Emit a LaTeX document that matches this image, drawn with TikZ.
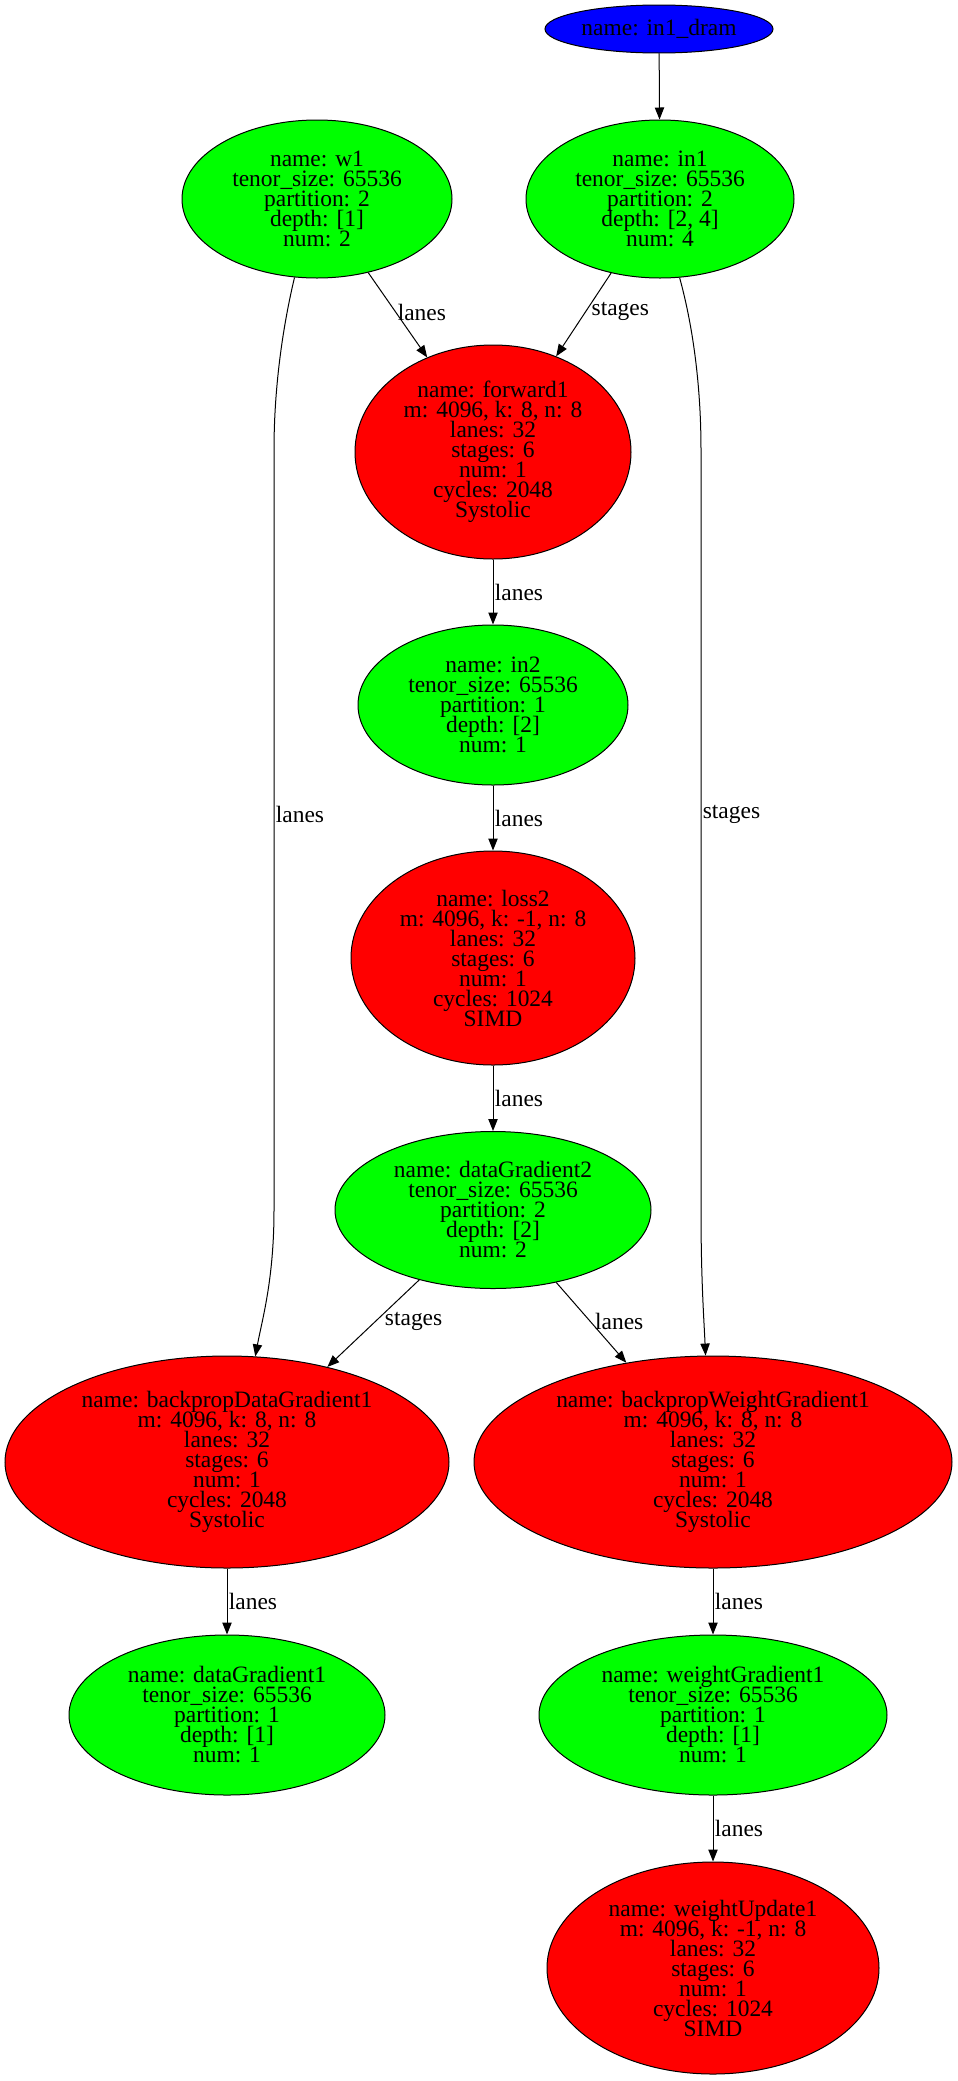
\documentclass[tikz,border=0pt]{standalone}
\usepackage{fontspec}
\setmainfont{Liberation Serif}
\usetikzlibrary{shapes.geometric,arrows.meta}
\definecolor{dramblue}{HTML}{0000FF}
\definecolor{tensorgreen}{HTML}{00FF00}
\definecolor{opred}{HTML}{FF0000}
% tight Graphviz-like line pitch: fixed 15pt baselines regardless of glyph extents
\newcommand{\gvfont}{\fontsize{17.6}{15}\selectfont\lineskiplimit=-30pt\lineskip=0pt}
\tikzset{
  gv/.style={ellipse, draw=black, line width=0.75pt, inner sep=0pt, align=center,
             font=\gvfont},
  mem/.style={gv, fill=dramblue},
  tensor/.style={gv, fill=tensorgreen},
  op/.style={gv, fill=opred},
  edge/.style={draw, line width=0.75pt, -{Triangle[length=9pt,width=7pt]}},
  lbl/.style={font=\gvfont, inner sep=1pt, right},
}
\begin{document}
\begin{tikzpicture}[x=0.75pt,y=-0.75pt]
\useasboundingbox (0,0) rectangle (957,2081);

% memory and tensor inputs
\node[mem, minimum width=171pt, minimum height=36pt] (dram) at (659,29) {name: in1\_dram};
\node[tensor, minimum width=202.5pt, minimum height=118.5pt] (w1) at (317,199)
  {name: w1\\tenor\_size: 65536\\partition: 2\\depth: [1]\\num: 2};
\node[tensor, minimum width=201pt, minimum height=118.5pt] (in1) at (660,199)
  {name: in1\\tenor\_size: 65536\\partition: 2\\depth: [2, 4]\\num: 4};

% forward / loss chain
\node[op, minimum width=207pt, minimum height=160.5pt] (forward1) at (493,452)
  {name: forward1\\m: 4096, k: 8, n: 8\\lanes: 32\\stages: 6\\num: 1\\cycles: 2048\\Systolic};
\node[tensor, minimum width=202.5pt, minimum height=120pt] (in2) at (493,705)
  {name: in2\\tenor\_size: 65536\\partition: 1\\depth: [2]\\num: 1};
\node[op, minimum width=213pt, minimum height=160.5pt] (loss2) at (493,958)
  {name: loss2\\m: 4096, k: -1, n: 8\\lanes: 32\\stages: 6\\num: 1\\cycles: 1024\\SIMD};
\node[tensor, minimum width=237pt, minimum height=117.75pt] (dg2) at (493,1210)
  {name: dataGradient2\\tenor\_size: 65536\\partition: 2\\depth: [2]\\num: 2};

% backward pass
\node[op, minimum width=333pt, minimum height=159pt] (bdg1) at (227,1462)
  {name: backpropDataGradient1\\m: 4096, k: 8, n: 8\\lanes: 32\\stages: 6\\num: 1\\cycles: 2048\\Systolic};
\node[op, minimum width=358.5pt, minimum height=159pt] (bwg1) at (713,1462)
  {name: backpropWeightGradient1\\m: 4096, k: 8, n: 8\\lanes: 32\\stages: 6\\num: 1\\cycles: 2048\\Systolic};
\node[tensor, minimum width=237pt, minimum height=120pt] (dg1) at (227,1715)
  {name: dataGradient1\\tenor\_size: 65536\\partition: 1\\depth: [1]\\num: 1};
\node[tensor, minimum width=261pt, minimum height=120pt] (wg1) at (713,1715)
  {name: weightGradient1\\tenor\_size: 65536\\partition: 1\\depth: [1]\\num: 1};
\node[op, minimum width=249pt, minimum height=159pt] (wu1) at (713,1968)
  {name: weightUpdate1\\m: 4096, k: -1, n: 8\\lanes: 32\\stages: 6\\num: 1\\cycles: 1024\\SIMD};

% connectors
\draw[edge] (dram) -- (in1);
\draw[edge] (w1) -- node[lbl, pos=0.47] {lanes} (forward1);
\draw[edge] (in1) -- node[lbl, pos=0.46, xshift=3pt] {stages} (forward1);
\draw[edge] (forward1) -- node[lbl, pos=0.5] {lanes} (in2);
\draw[edge] (in2) -- node[lbl, pos=0.5] {lanes} (loss2);
\draw[edge] (loss2) -- node[lbl, pos=0.5] {lanes} (dg2);
\draw[edge] (dg2) -- node[lbl, pos=0.48, xshift=6pt] {stages} (bdg1);
\draw[edge] (dg2) -- node[lbl, pos=0.49, xshift=2pt] {lanes} (bwg1);
\draw[edge] (bdg1) -- node[lbl, pos=0.5] {lanes} (dg1);
\draw[edge] (bwg1) -- node[lbl, pos=0.5] {lanes} (wg1);
\draw[edge] (wg1) -- node[lbl, pos=0.5] {lanes} (wu1);

% long skip edges down both sides
\draw[edge] (w1.-106) .. controls (282,330) and (274,390) .. (274,450)
  -- node[lbl, pos=0.48] {lanes} (274,1210)
  .. controls (274,1280) and (262,1320) .. (bdg1.75);
\draw[edge] (in1.-76) .. controls (694,330) and (701,390) .. (701,450)
  -- node[lbl, pos=0.48] {stages} (701,1210)
  .. controls (701,1280) and (704,1320) .. (bwg1.94);
\end{tikzpicture}
\end{document}
